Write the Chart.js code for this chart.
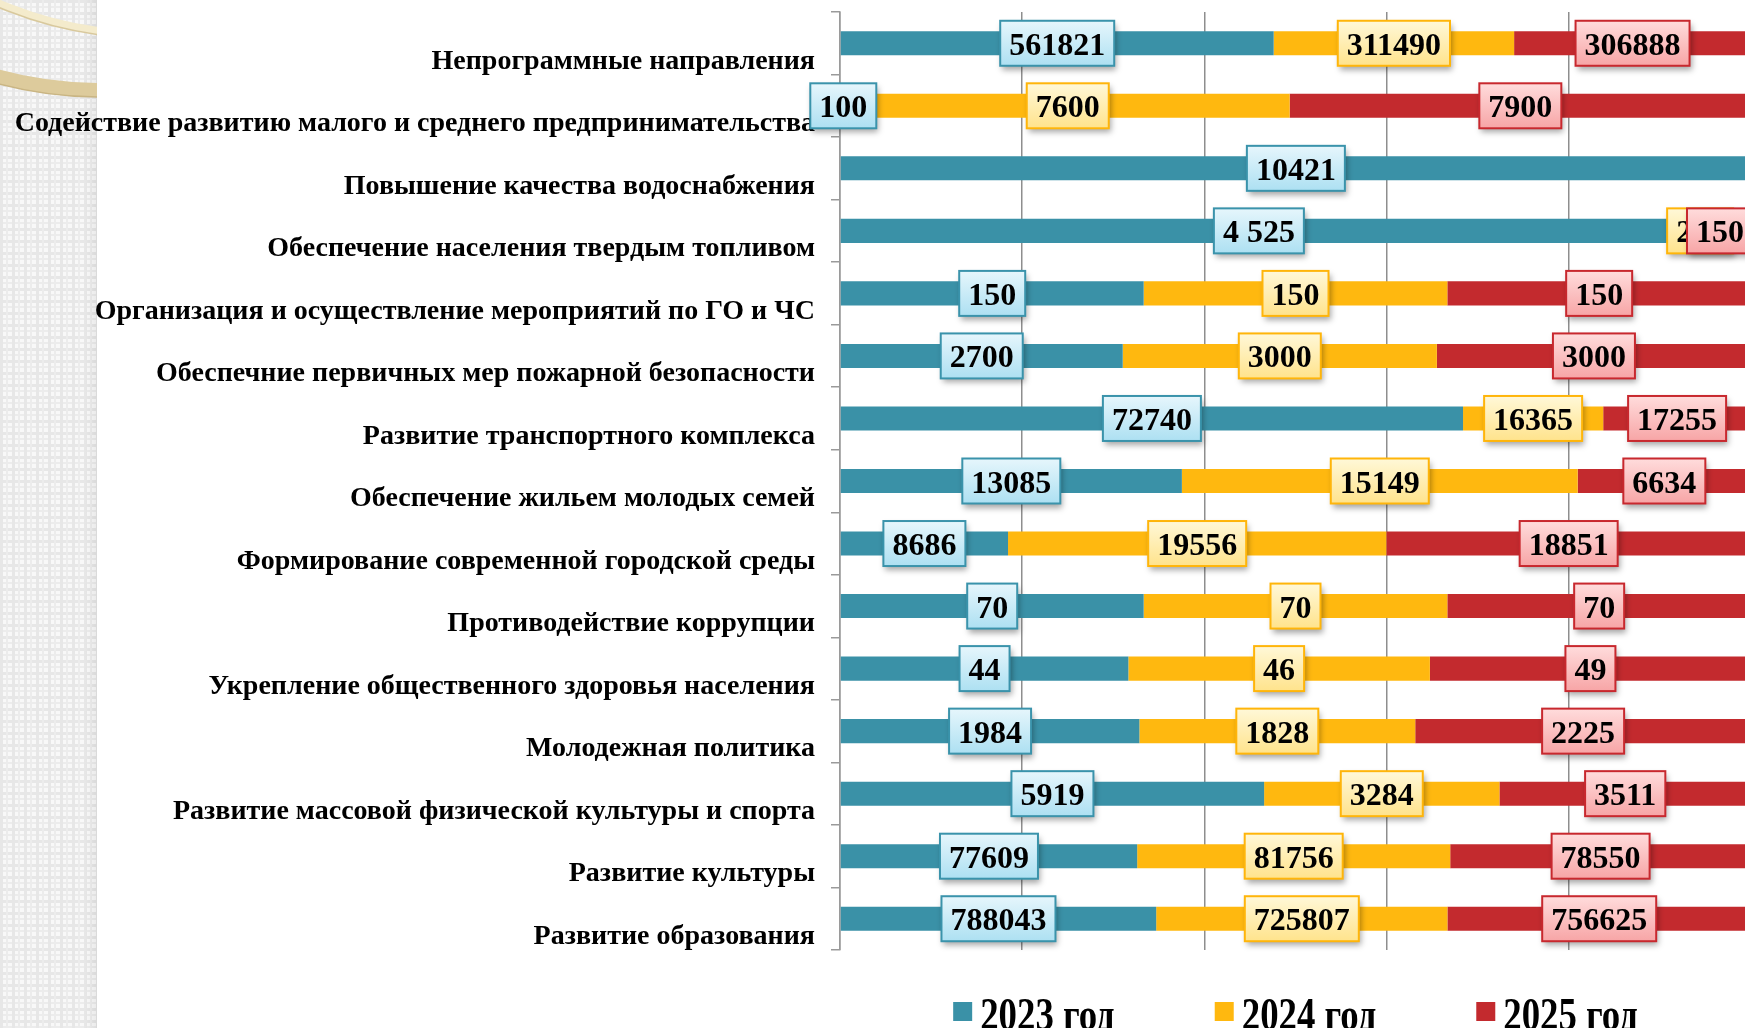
<!DOCTYPE html>
<html lang="ru">
<head>
<meta charset="utf-8">
<title>Расходы по муниципальным программам</title>
<script src="https://cdn.jsdelivr.net/npm/chart.js@4.4.1/dist/chart.umd.min.js"></script>
<style>
  html, body { margin: 0; padding: 0; width: 1745px; height: 1028px; overflow: hidden; background: #fff; }
  #strip {
    position: absolute; left: 0; top: 0; width: 97px; height: 1028px;
    background-color: #f8f8f8;
    background-image:
      linear-gradient(90deg, transparent 85px, rgba(0,0,0,0.06) 97px),
      linear-gradient(90deg, #e7e7e7 3px, transparent 3px, transparent 6px, #ececec 6px, #ececec 8px, transparent 8px),
      linear-gradient(#e7e7e7 3px, transparent 3px, transparent 6px, #ececec 6px, #ececec 8px, transparent 8px);
    background-size: 97px 100%, 12px 12px, 12px 12px;
  }
  #wrap { position: absolute; left: 0; top: 0; width: 1752px; height: 1028px; }
</style>
</head>
<body>
<div id="strip">
  <svg width="97" height="200" style="position:absolute;left:0;top:0">
    <circle cx="150" cy="-350" r="384" fill="none" stroke="#f4ebcc" stroke-width="7"/>
    <circle cx="150" cy="-350" r="388" fill="none" stroke="#d9c99c" stroke-width="1.5"/>
    <circle cx="100" cy="-300" r="390" fill="none" stroke="#ddcb9c" stroke-width="14"/>
    <circle cx="100" cy="-300" r="397" fill="none" stroke="#c9b583" stroke-width="1.5"/>
  </svg>
</div>
<div id="wrap"><canvas id="chart"></canvas></div>
<script>
// categories, top to bottom
const categories = [
    'Непрограммные направления',
    'Содействие развитию малого и среднего предпринимательства',
    'Повышение качества водоснабжения',
    'Обеспечение населения твердым топливом',
    'Организация и осуществление мероприятий по ГО и ЧС',
    'Обеспечние первичных мер пожарной безопасности',
    'Развитие транспортного комплекса',
    'Обеспечение жильем молодых семей',
    'Формирование современной городской среды',
    'Противодействие коррупции',
    'Укрепление общественного здоровья населения',
    'Молодежная политика',
    'Развитие массовой физической культуры и спорта',
    'Развитие культуры',
    'Развитие образования'
];

const seriesNames = ['2023 год', '2024 год', '2025 год'];

const values2023 = [561821, 100, 10421, 4525, 150, 2700, 72740, 13085, 8686, 70, 44, 1984, 5919, 77609, 788043];
const values2024 = [311490, 7600, null, 250, 150, 3000, 16365, 15149, 19556, 70, 46, 1828, 3284, 81756, 725807];
const values2025 = [306888, 7900, null, 150, 150, 3000, 17255, 6634, 18851, 70, 49, 2225, 3511, 78550, 756625];

// labels written with a thousands space in the source (series index, row index)
const spacedLabels = [[0, 3]];

const xTicks = [0, 20, 40, 60, 80, 100];

const colors = ['#3a91a7', '#ffb80f', '#c32a2e'];
const boxStyles = [
    { top: '#e6f6fc', bottom: '#ade0f2', border: '#3a93ab' },
    { top: '#fff8d8', bottom: '#ffe38c', border: '#ffb50a' },
    { top: '#ffdcdc', bottom: '#f7a5a6', border: '#c8282e' }
];

const allSeries = [values2023, values2024, values2025];
const totals = categories.map((c, j) => allSeries.reduce((s, arr) => s + (arr[j] || 0), 0));
const toPct = arr => arr.map((v, j) => v == null ? null : v / totals[j] * 100);

function formatValue(v, i, j) {
    const s = String(v);
    if (spacedLabels.some(p => p[0] === i && p[1] === j)) {
        return s.replace(/\B(?=(\d{3})+(?!\d))/g, ' ');
    }
    return s;
}

const serif = '"Liberation Serif", "Times New Roman", serif';

// boxed value labels at segment centres
const valueLabels = {
    id: 'valueLabels',
    afterDatasetsDraw(chart) {
        const ctx = chart.ctx;
        const area = chart.chartArea;
        ctx.save();
        ctx.font = 'bold 32px ' + serif;
        ctx.textAlign = 'center';
        ctx.textBaseline = 'alphabetic';
        chart.data.datasets.forEach((ds, i) => {
            const meta = chart.getDatasetMeta(i);
            const st = boxStyles[i];
            meta.data.forEach((bar, j) => {
                const raw = ds.raw[j];
                if (raw == null) return;
                const text = formatValue(raw, i, j);
                const w = ctx.measureText(text).width + 18;
                const h = 45;
                let cx = (bar.x + bar.base) / 2;
                cx = Math.min(cx, area.right + 2 - w / 2);
                const x = cx - w / 2;
                const y = bar.y - h / 2;
                const g = ctx.createLinearGradient(0, y, 0, y + h);
                g.addColorStop(0, st.top);
                g.addColorStop(1, st.bottom);
                ctx.save();
                ctx.shadowColor = 'rgba(0,0,0,0.35)';
                ctx.shadowBlur = 6;
                ctx.shadowOffsetX = 2;
                ctx.shadowOffsetY = 4;
                ctx.fillStyle = g;
                ctx.fillRect(x, y, w, h);
                ctx.restore();
                ctx.lineWidth = 2;
                ctx.strokeStyle = st.border;
                ctx.strokeRect(x, y, w, h);
                ctx.fillStyle = '#000';
                ctx.fillText(text, cx, bar.y + 11.5);
            });
        });
        ctx.restore();
    }
};

// legend under the plot, text slightly condensed
const bottomLegend = {
    id: 'bottomLegend',
    afterDraw(chart) {
        const ctx = chart.ctx;
        const area = chart.chartArea;
        const sx = 0.8;
        const box = 19;
        const gap = 100;
        ctx.save();
        ctx.font = 'bold 46px ' + serif;
        const items = chart.data.datasets.map(ds => ({
            label: ds.label,
            color: ds.backgroundColor,
            w: box + 8 + ctx.measureText(ds.label).width * sx
        }));
        const total = items.reduce((s, it) => s + it.w, 0) + gap * (items.length - 1);
        let x = (area.left + area.right) / 2 - total / 2;
        items.forEach(it => {
            ctx.fillStyle = it.color;
            ctx.fillRect(x, area.bottom + 52, box, box);
            ctx.save();
            ctx.translate(x + box + 8, area.bottom + 80);
            ctx.scale(sx, 1);
            ctx.fillStyle = '#000';
            ctx.textAlign = 'left';
            ctx.textBaseline = 'alphabetic';
            ctx.fillText(it.label, 0, 0);
            ctx.restore();
            x += it.w + gap;
        });
        ctx.restore();
    }
};

new Chart(document.getElementById('chart'), {
    type: 'bar',
    data: {
        labels: categories,
        datasets: allSeries.map((arr, i) => ({
            label: seriesNames[i],
            data: toPct(arr),
            raw: arr,
            backgroundColor: colors[i],
            borderWidth: 0,
            barPercentage: 0.385,
            categoryPercentage: 1
        }))
    },
    options: {
        indexAxis: 'y',
        responsive: true,
        maintainAspectRatio: false,
        animation: false,
        layout: { padding: { left: 0, top: 12, right: 1, bottom: 78 } },
        plugins: {
            legend: { display: false },
            tooltip: { enabled: false }
        },
        scales: {
            x: {
                stacked: true,
                min: xTicks[0],
                max: xTicks[xTicks.length - 1],
                afterBuildTicks: scale => { scale.ticks = xTicks.map(v => ({ value: v })); },
                afterFit: scale => { scale.height = 0; scale.paddingLeft = 0; scale.paddingRight = 0; },
                ticks: { display: false },
                grid: { color: '#8e8e8e', lineWidth: 1.5, drawTicks: false },
                border: { display: false }
            },
            y: {
                stacked: true,
                afterFit: scale => {
                    scale.width = 840;
                    scale.paddingTop = 0;
                    scale.paddingBottom = 0;
                },
                ticks: {
                    autoSkip: false,
                    color: '#000',
                    padding: 16,
                    labelOffset: 18,
                    font: { family: serif, size: 28, weight: 'bold' }
                },
                grid: {
                    offset: true,
                    drawOnChartArea: false,
                    drawTicks: true,
                    tickLength: 9,
                    color: '#9a9a9a',
                    lineWidth: 1.5
                },
                border: { display: true, color: '#9a9a9a', width: 1.5 }
            }
        }
    },
    plugins: [valueLabels, bottomLegend]
});
</script>
</body>
</html>
